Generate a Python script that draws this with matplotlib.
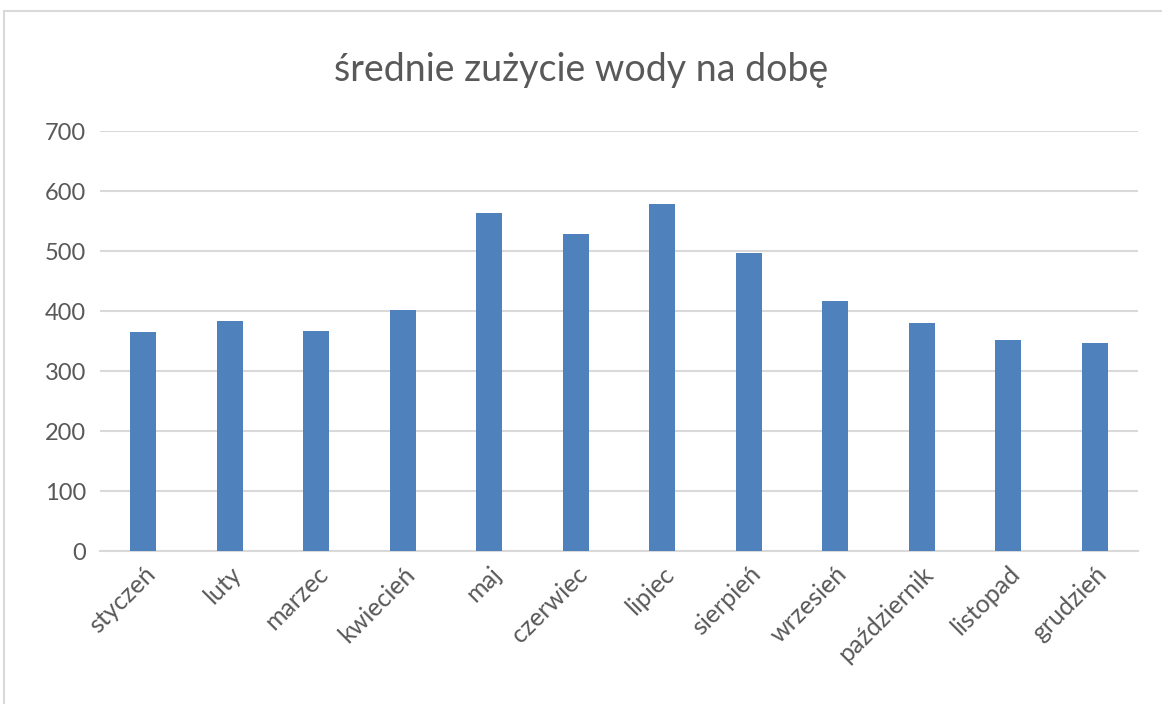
import matplotlib.pyplot as plt
from matplotlib.patches import Rectangle

months = ['styczeń', 'luty', 'marzec', 'kwiecień', 'maj', 'czerwiec',
          'lipiec', 'sierpień', 'wrzesień', 'październik', 'listopad', 'grudzień']
values = [365, 383, 367, 401, 564, 528, 578, 497, 417, 380, 352, 346]
yticks = [0, 100, 200, 300, 400, 500, 600, 700]

plt.rcParams['font.family'] = ['Lato', 'DejaVu Sans']
grey = '#595959'

fig = plt.figure(figsize=(11.62, 7.04), dpi=100)
ax = fig.add_axes([100/1162, 1 - 551/704, (1138-100)/1162, (551-131)/704])

# chart frame (top and left edge visible in the screenshot)
fig.patches.append(Rectangle((4/1162, -0.01), 1.2, 1 - 11/704 + 0.01, transform=fig.transFigure,
                             fill=False, edgecolor='#d9d9d9', linewidth=1.5))

x = range(len(months))
ax.bar(x, values, width=0.3, color='#4f81bd', zorder=3)
ax.set_xlim(-0.5, len(months) - 0.5)
ax.set_ylim(0, 700)
ax.set_yticks(yticks)
ax.grid(axis='y', color='#d9d9d9', linewidth=1.5, zorder=0)
for s in ['top', 'right', 'left']:
    ax.spines[s].set_visible(False)
ax.spines['bottom'].set_color('#d9d9d9')
ax.spines['bottom'].set_linewidth(1.5)
ax.tick_params(length=0, colors=grey)
ax.tick_params(axis='y', pad=10, labelsize=17)
ax.set_xticks(list(x))
ax.set_xticklabels(months, rotation=45, ha='right', rotation_mode='anchor')
ax.tick_params(axis='x', pad=8, labelsize=18)

fig.text(0.5, 1 - 70/704, 'średnie zużycie wody na dobę', ha='center', va='center',
         fontsize=27, color=grey)

fig.savefig('out.png', dpi=100)
